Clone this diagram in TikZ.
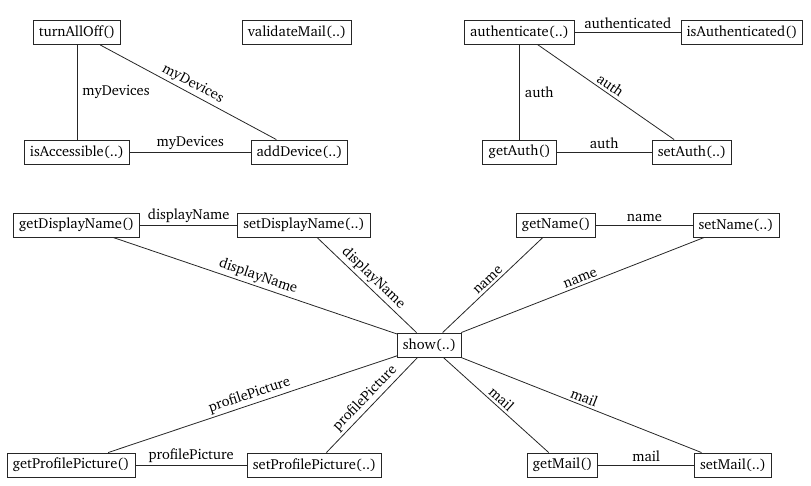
\documentclass[tikz,border=0pt]{standalone}
\usepackage[T1]{fontenc}
\usepackage{charter}
\begin{document}
\begin{tikzpicture}[x=1pt,y=-1pt,
  fn/.style={draw=black!85,line width=0.9pt,fill=white,inner xsep=5.5pt,inner ysep=2pt,minimum height=24pt,font=\fontsize{14.5}{16}\selectfont},
  rel/.style={draw=black!85,line width=0.8pt},
  lab/.style={font=\fontsize{14.5}{16}\selectfont,midway,sloped,above,inner sep=2.5pt},
  vlab/.style={font=\fontsize{14.5}{16}\selectfont,midway,right,inner sep=5pt}]
\useasboundingbox (0,0) rectangle (811,486);
% group 1
\node[fn] (turn) at (77,32.5) {turnAllOff()};
\node[fn] (valid) at (297,32.5) {validateMail(..)};
\node[fn] (isacc) at (77,152) {isAccessible(..)};
\node[fn] (adddev) at (299.5,152) {addDevice(..)};
\draw[rel] (turn) -- node[vlab] {myDevices} (isacc);
\draw[rel] (turn) -- node[lab] {myDevices} (adddev);
\draw[rel] (isacc) -- node[lab] {myDevices} (adddev);
% group 2
\node[fn] (auth) at (519.5,32) {authenticate(..)};
\node[fn] (isauth) at (742,32) {isAuthenticated()};
\node[fn] (getauth) at (519.5,152) {getAuth()};
\node[fn] (setauth) at (692,152) {setAuth(..)};
\draw[rel] (auth) -- node[lab] {authenticated} (isauth);
\draw[rel] (auth) -- node[vlab] {auth} (getauth);
\draw[rel] (auth) -- node[lab] {auth} (setauth);
\draw[rel] (getauth) -- node[lab] {auth} (setauth);
% group 3
\node[fn] (show) at (429.5,345) {show(..)};
\node[fn] (getdn) at (76.5,225) {getDisplayName()};
\node[fn] (setdn) at (304,225) {setDisplayName(..)};
\node[fn] (getn) at (556,225) {getName()};
\node[fn] (setn) at (736,225) {setName(..)};
\node[fn] (getpp) at (71,465) {getProfilePicture()};
\node[fn] (setpp) at (314.5,465) {setProfilePicture(..)};
\node[fn] (getm) at (562.5,465) {getMail()};
\node[fn] (setm) at (733,465) {setMail(..)};
\draw[rel] (getdn) -- node[lab] {displayName} (setdn);
\draw[rel] (getdn) -- node[lab] {displayName} (show);
\draw[rel] (setdn) -- node[lab] {displayName} (show);
\draw[rel] (getn) -- node[lab] {name} (setn);
\draw[rel] (show) -- node[lab] {name} (getn);
\draw[rel] (show) -- node[lab] {name} (setn);
\draw[rel] (getpp) -- node[lab] {profilePicture} (setpp);
\draw[rel] (getpp) -- node[lab] {profilePicture} (show);
\draw[rel] (setpp) -- node[lab] {profilePicture} (show);
\draw[rel] (getm) -- node[lab] {mail} (setm);
\draw[rel] (show) -- node[lab] {mail} (getm);
\draw[rel] (show) -- node[lab] {mail} (setm);
\end{tikzpicture}
\end{document}
